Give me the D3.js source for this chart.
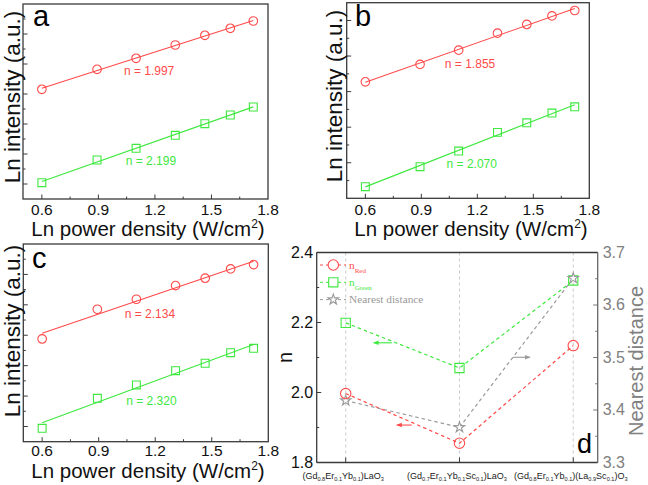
<!DOCTYPE html>
<html><head><meta charset="utf-8">
<script src="https://cdn.jsdelivr.net/npm/d3@7"></script>
<style>
body{margin:0;background:#fff}
text{font-family:"Liberation Sans",Arial,sans-serif}
</style>
</head><body>
<svg id="chart" width="648" height="485" xmlns="http://www.w3.org/2000/svg"></svg>
<script>
// ---------------- DATA ----------------
const powerDensity = [0.6, 0.893, 1.1, 1.308, 1.465, 1.6, 1.722];
const redA   = [4.157, 4.823, 5.19, 5.633, 5.957, 6.19, 6.433];
const greenA = [1.043, 1.8, 2.19, 2.623, 3.01, 3.3, 3.567];
const redB   = [3.275, 3.764, 4.166, 4.643, 4.888, 5.129, 5.281];
const greenB = [0.326, 0.888, 1.329, 1.854, 2.124, 2.396, 2.573];
const redC   = [3.878, 4.855, 5.184, 5.632, 5.875, 6.181, 6.322];
const greenC = [0.941, 1.928, 2.365, 2.836, 3.079, 3.428, 3.572];
const xTickValues = [0.6, 0.9, 1.2, 1.5, 1.8];
const panelLetters = ["a", "b", "c"];
const redSlopeLabels = ["n = 1.997", "n = 1.855", "n = 2.134"];
const greenSlopeLabels = ["n = 2.199", "n = 2.070", "n = 2.320"];

const samples = [
  "(Gd_{0.8}Er_{0.1}Yb_{0.1})LaO_{3}",
  "(Gd_{0.7}Er_{0.1}Yb_{0.1}Sc_{0.1})LaO_{3}",
  "(Gd_{0.8}Er_{0.1}Yb_{0.1})(La_{0.9}Sc_{0.1})O_{3}"
];
const nRed   = [1.997, 1.855, 2.134];
const nGreen = [2.199, 2.070, 2.320];
const nearestDistance = [3.418, 3.367, 3.651];
const nTicks = [1.8, 2.0, 2.2, 2.4];
const distTicks = [3.3, 3.4, 3.5, 3.6, 3.7];
const legendNames = [["n", "Red"], ["n", "Green"], ["Nearest distance", ""]];

// ---------------- STYLE / LAYOUT ----------------
const RED = "#ff4a4a", GREEN = "#3ee83e", GRAY = "#9a9a9a", FRAME = "#3a3a3a";
const svg = d3.select("#chart");
svg.append("rect").attr("width", 648).attr("height", 485).attr("fill", "#fff");

const panelLayout = [
  {box: [23, 4, 268, 199],   yDom: [0.5, 7],  yMajor: [1,2,3,4,5,6], yMinor: [1.5,2.5,3.5,4.5,5.5,6.5],
   red: redA, green: greenA, redLab: [1.169, 4.777], greenLab: [1.179, 1.79],
   tickBase: 214.5, titleY: 236, titleX: 148, yTitle: [20, 97], letter: [33, 26]},
  {box: [346.7, 2.7, 589.3, 198.3], yDom: [0, 5.5], yMajor: [1,2,3,4,5], yMinor: [0.5,1.5,2.5,3.5,4.5],
   red: redB, green: greenB, redLab: [1.161, 3.79], greenLab: [1.17, 0.963],
   tickBase: 214.5, titleY: 236, titleX: 471, yTitle: [342, 96], letter: [355, 26]},
  {box: [23.3, 244, 268.3, 441.7], yDom: [0.5, 7], yMajor: [1,2,3,4,5,6], yMinor: [1.5,2.5,3.5,4.5,5.5,6.5],
   red: redC, green: greenC, redLab: [1.172, 4.70], greenLab: [1.18, 1.849],
   tickBase: 455.5, titleY: 477.5, titleX: 148, yTitle: [20, 331], letter: [32, 268]}
];

function fit(xs, ys) {
  const mx = d3.mean(xs), my = d3.mean(ys);
  let sxy = 0, sxx = 0;
  xs.forEach((x, i) => { sxy += (x - mx) * (ys[i] - my); sxx += (x - mx) ** 2; });
  const m = sxy / sxx;
  return x => my + m * (x - mx);
}

panelLayout.forEach((p, i) => {
  const [x0, y0, x1, y1] = p.box;
  const x = d3.scaleLinear().domain([0.5, 1.8]).range([x0, x1]);
  const y = d3.scaleLinear().domain(p.yDom).range([y1, y0]);
  const g = svg.append("g");

  // ticks (inward)
  const xMinor = [0.75, 1.05, 1.35, 1.65];
  g.selectAll(".xt").data(xTickValues.filter(v => v < 1.8)).join("line")
    .attr("x1", d => x(d)).attr("x2", d => x(d)).attr("y1", y1).attr("y2", y1 - 4.5)
    .attr("stroke", FRAME).attr("stroke-width", 1);
  g.selectAll(".xm").data(xMinor).join("line")
    .attr("x1", d => x(d)).attr("x2", d => x(d)).attr("y1", y1).attr("y2", y1 - 2.5)
    .attr("stroke", FRAME).attr("stroke-width", 1);
  g.selectAll(".yt").data(p.yMajor).join("line")
    .attr("x1", x0).attr("x2", x0 + 4.5).attr("y1", d => y(d)).attr("y2", d => y(d))
    .attr("stroke", FRAME).attr("stroke-width", 1);
  g.selectAll(".ym").data(p.yMinor).join("line")
    .attr("x1", x0).attr("x2", x0 + 2.5).attr("y1", d => y(d)).attr("y2", d => y(d))
    .attr("stroke", FRAME).attr("stroke-width", 1);

  // frame
  g.append("rect").attr("x", x0).attr("y", y0).attr("width", x1 - x0).attr("height", y1 - y0)
    .attr("fill", "none").attr("stroke", FRAME).attr("stroke-width", 1.3);

  // tick labels
  g.selectAll(".xl").data(xTickValues).join("text")
    .attr("x", d => x(d)).attr("y", p.tickBase).attr("text-anchor", "middle")
    .attr("font-size", 15.5).attr("fill", "#111").text(d => d.toFixed(1));

  // fits + markers
  [[p.red, RED, "circle"], [p.green, GREEN, "square"]].forEach(([ys, col, shape]) => {
    const f = fit(powerDensity, ys);
    const xa = powerDensity[0], xb = powerDensity[powerDensity.length - 1];
    g.append("line").attr("x1", x(xa)).attr("y1", y(f(xa))).attr("x2", x(xb)).attr("y2", y(f(xb)))
      .attr("stroke", col).attr("stroke-width", 1.1);
    const sym = shape === "circle" ? d3.symbolCircle : d3.symbolSquare;
    const size = shape === "circle" ? 58 : 62;
    g.selectAll(null).data(ys).join("path")
      .attr("transform", (d, k) => `translate(${x(powerDensity[k])},${y(d)})`)
      .attr("d", d3.symbol().type(sym).size(size))
      .attr("fill", "none").attr("stroke", col).attr("stroke-width", 1.1);
  });

  // slope labels
  g.append("text").attr("x", x(p.redLab[0])).attr("y", y(p.redLab[1])).attr("dy", "0.36em")
    .attr("text-anchor", "middle").attr("font-size", 12).attr("fill", RED).text(redSlopeLabels[i]);
  g.append("text").attr("x", x(p.greenLab[0])).attr("y", y(p.greenLab[1])).attr("dy", "0.36em")
    .attr("text-anchor", "middle").attr("font-size", 12).attr("fill", GREEN).text(greenSlopeLabels[i]);

  // letter
  g.append("text").attr("x", p.letter[0]).attr("y", p.letter[1]).attr("font-size", 29)
    .attr("fill", "#000").text(panelLetters[i]);

  // axis titles
  const xt = g.append("text").attr("x", p.titleX).attr("y", p.titleY).attr("text-anchor", "middle")
    .attr("font-size", 20.5).attr("fill", "#111");
  xt.append("tspan").text("Ln power density (W/cm");
  xt.append("tspan").attr("font-size", 12).attr("dy", -8).text("2");
  xt.append("tspan").attr("dy", 8).text(")");
  g.append("text").attr("transform", `translate(${p.yTitle[0]},${p.yTitle[1]}) rotate(-90)`)
    .attr("text-anchor", "middle").attr("font-size", 22.5).attr("fill", "#111").text("Ln intensity (a.u.)");
});

// ---------------- PANEL D ----------------
(function () {
  const x0 = 316.7, y0 = 252.5, x1 = 597.7, y1 = 462.5;
  const x = d3.scaleLinear().domain([-0.255, 2.215]).range([x0, x1]);
  const yn = d3.scaleLinear().domain([1.8, 2.4]).range([y1, y0]);
  const yd = d3.scaleLinear().domain([3.3, 3.7]).range([y1, y0]);
  const g = svg.append("g");
  const idx = samples.map((s, i) => i);

  // vertical dashed guides
  g.selectAll(".vg").data(idx).join("line")
    .attr("x1", d => x(d)).attr("x2", d => x(d)).attr("y1", y0).attr("y2", y1)
    .attr("stroke", "#c4c4c4").attr("stroke-width", 0.9).attr("stroke-dasharray", "3,3");

  // ticks
  g.selectAll(".bt").data(idx).join("line")
    .attr("x1", d => x(d)).attr("x2", d => x(d)).attr("y1", y1).attr("y2", y1 - 5)
    .attr("stroke", FRAME);
  g.selectAll(".lt").data(nTicks).join("line")
    .attr("x1", x0).attr("x2", x0 + 4.5).attr("y1", d => yn(d)).attr("y2", d => yn(d)).attr("stroke", FRAME);
  g.selectAll(".lm").data([1.9, 2.1, 2.3]).join("line")
    .attr("x1", x0).attr("x2", x0 + 2.5).attr("y1", d => yn(d)).attr("y2", d => yn(d)).attr("stroke", FRAME);
  g.selectAll(".rt").data(distTicks).join("line")
    .attr("x1", x1).attr("x2", x1 - 4.5).attr("y1", d => yd(d)).attr("y2", d => yd(d)).attr("stroke", "#777");
  g.selectAll(".rm").data([3.35, 3.45, 3.55, 3.65]).join("line")
    .attr("x1", x1).attr("x2", x1 - 2.5).attr("y1", d => yd(d)).attr("y2", d => yd(d)).attr("stroke", "#777");

  // frame
  g.append("line").attr("x1", x0).attr("x2", x1).attr("y1", y0).attr("y2", y0).attr("stroke", FRAME).attr("stroke-width", 1.3);
  g.append("line").attr("x1", x0).attr("x2", x1).attr("y1", y1).attr("y2", y1).attr("stroke", FRAME).attr("stroke-width", 1.3);
  g.append("line").attr("x1", x0).attr("x2", x0).attr("y1", y0).attr("y2", y1).attr("stroke", FRAME).attr("stroke-width", 1.3);
  g.append("line").attr("x1", x1).attr("x2", x1).attr("y1", y0).attr("y2", y1).attr("stroke", "#666").attr("stroke-width", 1.3);

  // tick labels
  g.selectAll(".ll").data(nTicks).join("text")
    .attr("x", x0 - 3.5).attr("y", d => yn(d)).attr("dy", "0.34em").attr("text-anchor", "end")
    .attr("font-size", 16).attr("fill", "#111").text(d => d.toFixed(1));
  g.selectAll(".rl").data(distTicks).join("text")
    .attr("x", x1 + 5).attr("y", d => yd(d)).attr("dy", "0.32em")
    .attr("font-size", 16).attr("fill", "#808080").text(d => d.toFixed(1));

  // axis titles
  g.append("text").attr("transform", `translate(292,357.5) rotate(-90)`).attr("text-anchor", "middle")
    .attr("font-size", 20).attr("fill", "#111").text("n");
  g.append("text").attr("transform", `translate(643,361) rotate(-90)`).attr("text-anchor", "middle")
    .attr("font-size", 20).attr("fill", "#808080").text("Nearest distance");

  // category labels with subscripts
  samples.forEach((s, i) => {
    const t = g.append("text").attr("x", x(i) - 2.5).attr("y", 478.5).attr("text-anchor", "middle")
      .attr("font-size", 9).attr("fill", "#222");
    const parts = s.split(/(_\{[^}]*\})/).filter(q => q.length);
    let sub = false;
    parts.forEach(q => {
      if (q.startsWith("_{")) {
        t.append("tspan").attr("font-size", 5.6).attr("dy", sub ? 0 : 2).text(q.slice(2, -1));
        sub = true;
      } else {
        t.append("tspan").attr("dy", sub ? -2 : 0).text(q);
        sub = false;
      }
    });
  });

  // dashed series lines
  const series = [
    {vals: nGreen, col: GREEN, sc: yn, sym: d3.symbolSquare, size: 85},
    {vals: nearestDistance, col: GRAY, sc: yd, sym: d3.symbolStar, size: 34},
    {vals: nRed, col: RED, sc: yn, sym: d3.symbolCircle, size: 85}
  ];
  series.forEach(s => {
    g.append("path").datum(s.vals)
      .attr("d", d3.line().x((d, i) => x(i)).y(d => s.sc(d)))
      .attr("fill", "none").attr("stroke", s.col).attr("stroke-width", 1.2).attr("stroke-dasharray", "3.5,3");
  });
  series.forEach(s => {
    g.selectAll(null).data(s.vals).join("path")
      .attr("transform", (d, i) => `translate(${x(i)},${s.sc(d)})`)
      .attr("d", d3.symbol().type(s.sym).size(s.size))
      .attr("fill", s.sym === d3.symbolStar ? "#fff" : "none")
      .attr("stroke", s.col).attr("stroke-width", 1.1);
  });

  // arrows
  const defs = svg.append("defs");
  [["arR", RED], ["arG", GREEN], ["arK", GRAY]].forEach(([id, col]) => {
    defs.append("marker").attr("id", id).attr("viewBox", "0 0 10 10").attr("refX", 9).attr("refY", 5)
      .attr("markerWidth", 5).attr("markerHeight", 5).attr("orient", "auto-start-reverse")
      .append("path").attr("d", "M0,1 L10,5 L0,9 Z").attr("fill", col);
  });
  const arrows = [
    {from: [0.58, 1.907], to: [0.449, 1.907], sc: yn, id: "arR", col: RED},
    {from: [0.405, 2.142], to: [0.245, 2.142], sc: yn, id: "arG", col: GREEN},
    {from: [1.47, 3.5004], to: [1.62, 3.5004], sc: yd, id: "arK", col: GRAY}
  ];
  arrows.forEach(a => {
    g.append("line").attr("x1", x(a.from[0])).attr("y1", a.sc(a.from[1]))
      .attr("x2", x(a.to[0])).attr("y2", a.sc(a.to[1]))
      .attr("stroke", a.col).attr("stroke-width", 1.1).attr("marker-end", `url(#${a.id})`);
  });

  // legend
  const legCols = [RED, GREEN, GRAY];
  const legSyms = [d3.symbolCircle, d3.symbolSquare, d3.symbolStar];
  const legSizes = [85, 85, 34];
  legendNames.forEach((nm, i) => {
    const ly = 265 + i * 17.3;
    g.append("line").attr("x1", 320).attr("x2", 346).attr("y1", ly).attr("y2", ly)
      .attr("stroke", legCols[i]).attr("stroke-width", 1).attr("stroke-dasharray", "3,3");
    g.append("path").attr("transform", `translate(333.3,${ly})`)
      .attr("d", d3.symbol().type(legSyms[i]).size(legSizes[i]))
      .attr("fill", "#fff").attr("stroke", legCols[i]).attr("stroke-width", 1.1);
    const t = g.append("text").attr("x", 349).attr("y", ly + 3.5)
      .attr("font-size", 11.3).attr("fill", legCols[i]);
    t.append("tspan").style("font-family", "'Liberation Serif','Times New Roman',serif").text(nm[0]);
    if (nm[1]) t.append("tspan").style("font-family", "'Liberation Serif','Times New Roman',serif")
      .attr("font-size", 7).attr("dy", 4).text(nm[1]);
  });

  g.append("text").attr("x", 577).attr("y", 452.5).attr("font-size", 27).attr("fill", "#000").text("d");
})();
</script>
</body></html>
